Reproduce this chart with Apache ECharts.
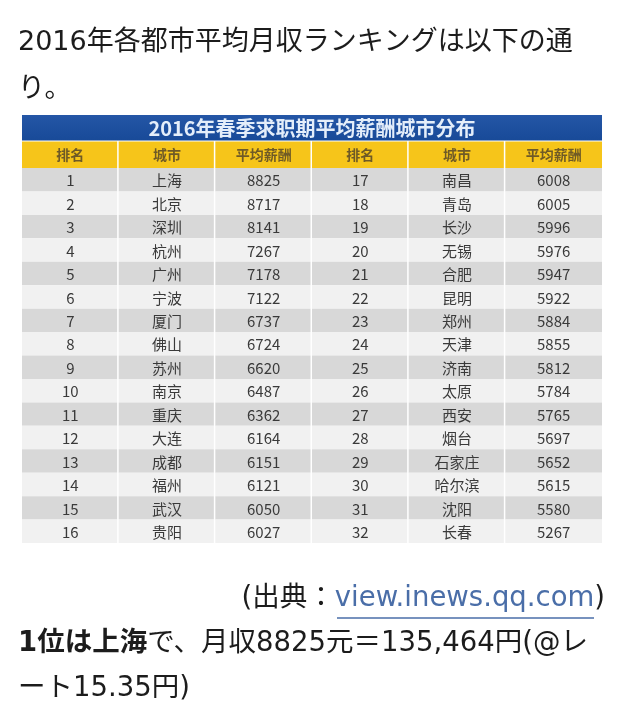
<!DOCTYPE html>
<html><head><meta charset="utf-8">
<script src="https://cdn.jsdelivr.net/npm/echarts@6/dist/echarts.min.js"></script>
<style>html,body{margin:0;padding:0;background:#fff}#c{width:638px;height:723px}</style>
</head><body><div id="c"></div>
<script>
// ---- data ----
const tableTitle = '2016年春季求职期平均薪酬城市分布';
const headers = ['排名', '城市', '平均薪酬', '排名', '城市', '平均薪酬'];
const ranksLeft = [1, 2, 3, 4, 5, 6, 7, 8, 9, 10, 11, 12, 13, 14, 15, 16];
const citiesLeft = ['上海', '北京', '深圳', '杭州', '广州', '宁波', '厦门', '佛山', '苏州', '南京', '重庆', '大连', '成都', '福州', '武汉', '贵阳'];
const salariesLeft = [8825, 8717, 8141, 7267, 7178, 7122, 6737, 6724, 6620, 6487, 6362, 6164, 6151, 6121, 6050, 6027];
const ranksRight = [17, 18, 19, 20, 21, 22, 23, 24, 25, 26, 27, 28, 29, 30, 31, 32];
const citiesRight = ['南昌', '青岛', '长沙', '无锡', '合肥', '昆明', '郑州', '天津', '济南', '太原', '西安', '烟台', '石家庄', '哈尔滨', '沈阳', '长春'];
const salariesRight = [6008, 6005, 5996, 5976, 5947, 5922, 5884, 5855, 5812, 5784, 5765, 5697, 5652, 5615, 5580, 5267];
const introLine1 = '2016年各都市平均月収ランキングは以下の通';
const introLine2 = 'り。';

// ---- build table cells ----
const colIdx = [0, 1, 2, 3, 4, 5];
const rowIdx = ranksLeft.map((_, i) => i);
const cellData = [], cellText = [];
rowIdx.forEach(r => {
  const vals = [ranksLeft[r], citiesLeft[r], salariesLeft[r], ranksRight[r], citiesRight[r], salariesRight[r]];
  vals.forEach((v, c) => { cellData.push([c, r]); cellText.push(String(v)); });
});
const headData = [], headText = [];
headers.forEach((h, c) => { headData.push([c, 1, 'h']); headText.push(h); });
headData.push([0, 0, 't']); headText.push(tableTitle);

const CJK = '"Noto Sans CJK SC", sans-serif';
const JP = '"DejaVu Sans", "Noto Sans CJK JP", sans-serif';

const chart = echarts.init(document.getElementById('c'), null, {renderer: 'canvas'});
chart.setOption({
  backgroundColor: '#ffffff',
  animation: false,
  grid: [
    {left: 22, right: 36, top: 168, height: 375},
    {left: 22, right: 36, top: 115, height: 53}
  ],
  xAxis: [
    {type: 'category', gridIndex: 0, data: colIdx, show: false},
    {type: 'category', gridIndex: 1, data: colIdx, show: false}
  ],
  yAxis: [
    {type: 'category', gridIndex: 0, data: rowIdx, inverse: true, show: false},
    {type: 'category', gridIndex: 1, data: [0, 1], inverse: true, show: false}
  ],
  series: [
    {
      type: 'custom', xAxisIndex: 0, yAxisIndex: 0, data: cellData,
      renderItem: function (params, api) {
        const c = api.value(0), r = api.value(1);
        const p = api.coord([c, r]);
        const s = api.size([1, 1]);
        return {type: 'group', children: [
          {type: 'rect', shape: {x: p[0] - s[0] / 2, y: p[1] - s[1] / 2, width: s[0] - (c < 5 ? 1.5 : 0), height: s[1]},
           style: {fill: r % 2 === 0 ? '#d8d8d8' : '#f1f1f1'}},
          {type: 'text', x: p[0], y: p[1] + 1, style: {text: cellText[params.dataIndex], align: 'center', verticalAlign: 'middle',
            fill: '#3a3a3a', font: '15px ' + CJK}}
        ]};
      }
    },
    {
      type: 'custom', xAxisIndex: 1, yAxisIndex: 1, data: headData,
      renderItem: function (params, api) {
        const c = api.value(0), r = api.value(1);
        const s = api.size([1, 1]);
        if (headData[params.dataIndex][2] === 't') {
          const p0 = api.coord([0, r]), p5 = api.coord([5, r]);
          const x0 = p0[0] - s[0] / 2, x1 = p5[0] + s[0] / 2;
          return {type: 'group', children: [
            {type: 'rect', shape: {x: x0, y: p0[1] - s[1] / 2, width: x1 - x0, height: s[1] - 1},
             style: {fill: new echarts.graphic.LinearGradient(0, 0, 0, 1, [{offset: 0, color: '#2456a6'}, {offset: 1, color: '#184a98'}])}},
            {type: 'text', x: (x0 + x1) / 2, y: p0[1], style: {text: headText[params.dataIndex], align: 'center', verticalAlign: 'middle',
              fill: '#e4eefa', font: 'bold 20px ' + CJK}}
          ]};
        }
        const p = api.coord([c, r]);
        return {type: 'group', children: [
          {type: 'rect', shape: {x: p[0] - s[0] / 2, y: p[1] - s[1] / 2, width: s[0] - (c < 5 ? 1.5 : 0), height: s[1]},
           style: {fill: '#f6c51a'}},
          {type: 'text', x: p[0], y: p[1], style: {text: headText[params.dataIndex], align: 'center', verticalAlign: 'middle',
            fill: '#6f5a26', font: 'bold 14px ' + CJK}}
        ]};
      }
    }
  ],
  graphic: [
    {type: 'text', left: 18, top: 29, style: {text: introLine1, fill: '#1c1c1c', font: '27px ' + JP}},
    {type: 'text', left: 18, top: 76, style: {text: introLine2, fill: '#1c1c1c', font: '27px ' + JP}},
    {type: 'text', right: 33, top: 585, style: {
      text: '(出典：{link|view.inews.qq.com})', fill: '#1c1c1c', font: '27.5px ' + JP,
      rich: {link: {fill: '#4a6ea8', font: '27.5px ' + JP}}
    }},
    {type: 'line', shape: {x1: 337, y1: 618, x2: 594, y2: 618}, style: {stroke: '#4a6ea8', lineWidth: 1.5}},
    {type: 'text', left: 18, top: 630, style: {
      text: '{b|1位は上海}で、月収8825元＝135,464円(@レ', fill: '#1c1c1c', font: '27.5px ' + JP,
      rich: {b: {fill: '#1c1c1c', font: 'bold 27.5px ' + JP}}
    }},
    {type: 'text', left: 18, top: 675, style: {text: 'ート15.35円)', fill: '#1c1c1c', font: '27.5px ' + JP}}
  ]
});
</script></body></html>
